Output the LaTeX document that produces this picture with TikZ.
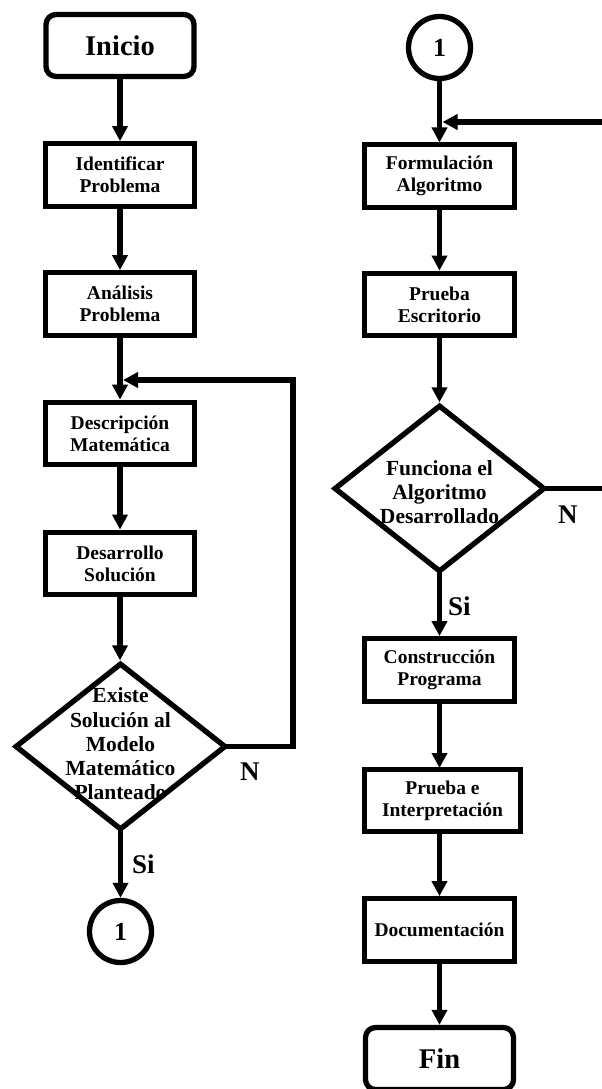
\documentclass[tikz,border=0pt]{standalone}
\usepackage{fontspec}
\setmainfont{Liberation Serif}
\usetikzlibrary{shapes.geometric,arrows.meta}
\begin{document}
\begin{tikzpicture}[x=1pt,y=-1pt,
  lw/.style={line width=5.3pt},
  procbox/.style={draw,lw,rectangle,minimum width=149.5pt,minimum height=62.5pt,inner sep=0pt,align=center,font=\fontsize{19.5}{22}\selectfont\bfseries},
  termbox/.style={draw,lw,rectangle,rounded corners=10pt,minimum width=148pt,minimum height=62pt,inner sep=0pt,font=\fontsize{28.5}{30}\selectfont\bfseries},
  connbox/.style={draw,lw,circle,minimum size=62pt,inner sep=0pt,font=\fontsize{26}{28}\selectfont\bfseries},
  decbox/.style={draw,lw,diamond,minimum width=211pt,minimum height=167pt,inner sep=0pt},
  dectext/.style={align=center,inner sep=0pt,font=\fontsize{21.5}{24.3}\selectfont\bfseries},
  lbl/.style={anchor=base west,inner sep=0pt,font=\fontsize{27}{29}\selectfont\bfseries},
  arr/.style={lw,line join=miter,-{Triangle[length=15pt,width=15pt]}},
  ln/.style={lw,line join=miter}]
\useasboundingbox (0,0) rectangle (602,1089);
% left column
\node[termbox] (ini) at (120,45.5) {Inicio};
\node[procbox] (ide) at (120,175) {Identificar\\Problema};
\node[procbox] (ana) at (120,304) {Análisis\\Problema};
\node[procbox] (des) at (120,433.5) {Descripción\\Matemática};
\node[procbox] (dsa) at (120,563.5) {Desarrollo\\Solución};
\node[decbox] (d1) at (120.5,746.5) {};
\node[dectext] (d1t) at (120.5,744) {Existe\\Solución al\\Modelo\\Matemático\\Planteado};
\node[connbox] (c1) at (120.5,931.5) {1};
\node[lbl] (n1) at (240,780) {N};
\node[lbl] (s1) at (132,873) {Si};
\coordinate (lpR) at (293,380);
\coordinate (lpJ) at (123,380);
% right column
\node[connbox] (c2) at (439.5,47.5) {1};
\node[procbox] (for) at (439.5,176) {Formulación\\Algoritmo};
\node[procbox] (pes) at (439.5,304.5) {Prueba\\Escritorio};
\node[decbox] (d2) at (439.5,488.5) {};
\node[dectext] (d2t) at (439.5,492) {Funciona el\\Algoritmo\\Desarrollado};
\node[procbox] (con) at (439.5,670) {Construcción\\Programa};
\node[procbox,minimum width=156pt] (pin) at (442.5,800.5) {Prueba e\\Interpretación};
\node[procbox] (doc) at (439.5,930) {Documentación};
\node[termbox] (fin) at (439.5,1058.5) {Fin};
\node[lbl] (n2) at (558,523) {N};
\node[lbl] (s2) at (448,615) {Si};
\coordinate (rJ) at (442.5,122);
\coordinate (rE) at (606,122);
\coordinate (rE2) at (606,488.5);
\coordinate (forTop) at (439.5,142.5);
\coordinate (pinTop) at (439.5,768);
\coordinate (pinBot) at (439.5,833);
% connectors left
\draw[arr] (ini.south) -- (ide.north);
\draw[arr] (ide.south) -- (ana.north);
\draw[arr] (ana.south) -- (des.north);
\draw[arr] (des.south) -- (dsa.north);
\draw[arr] (dsa.south) -- (dsa.south |- d1.north);
\draw[arr] ([yshift=4pt]d1.south) -- (c1.north);
\draw[arr] ([xshift=-4pt]d1.east) -| (lpR) -- (lpJ);
% connectors right
\draw[arr] (c2.south) -- (forTop);
\draw[arr] (rE) -- (rJ);
\draw[arr] (for.south) -- (pes.north);
\draw[arr] (pes.south) -- (d2.north);
\draw[ln] ([xshift=-4pt]d2.east) -- (rE2);
\draw[arr] ([yshift=4pt]d2.south) -- (con.north);
\draw[arr] (con.south) -- (pinTop);
\draw[arr] (pinBot) -- (doc.north);
\draw[arr] (doc.south) -- (fin.north);
\end{tikzpicture}
\end{document}
